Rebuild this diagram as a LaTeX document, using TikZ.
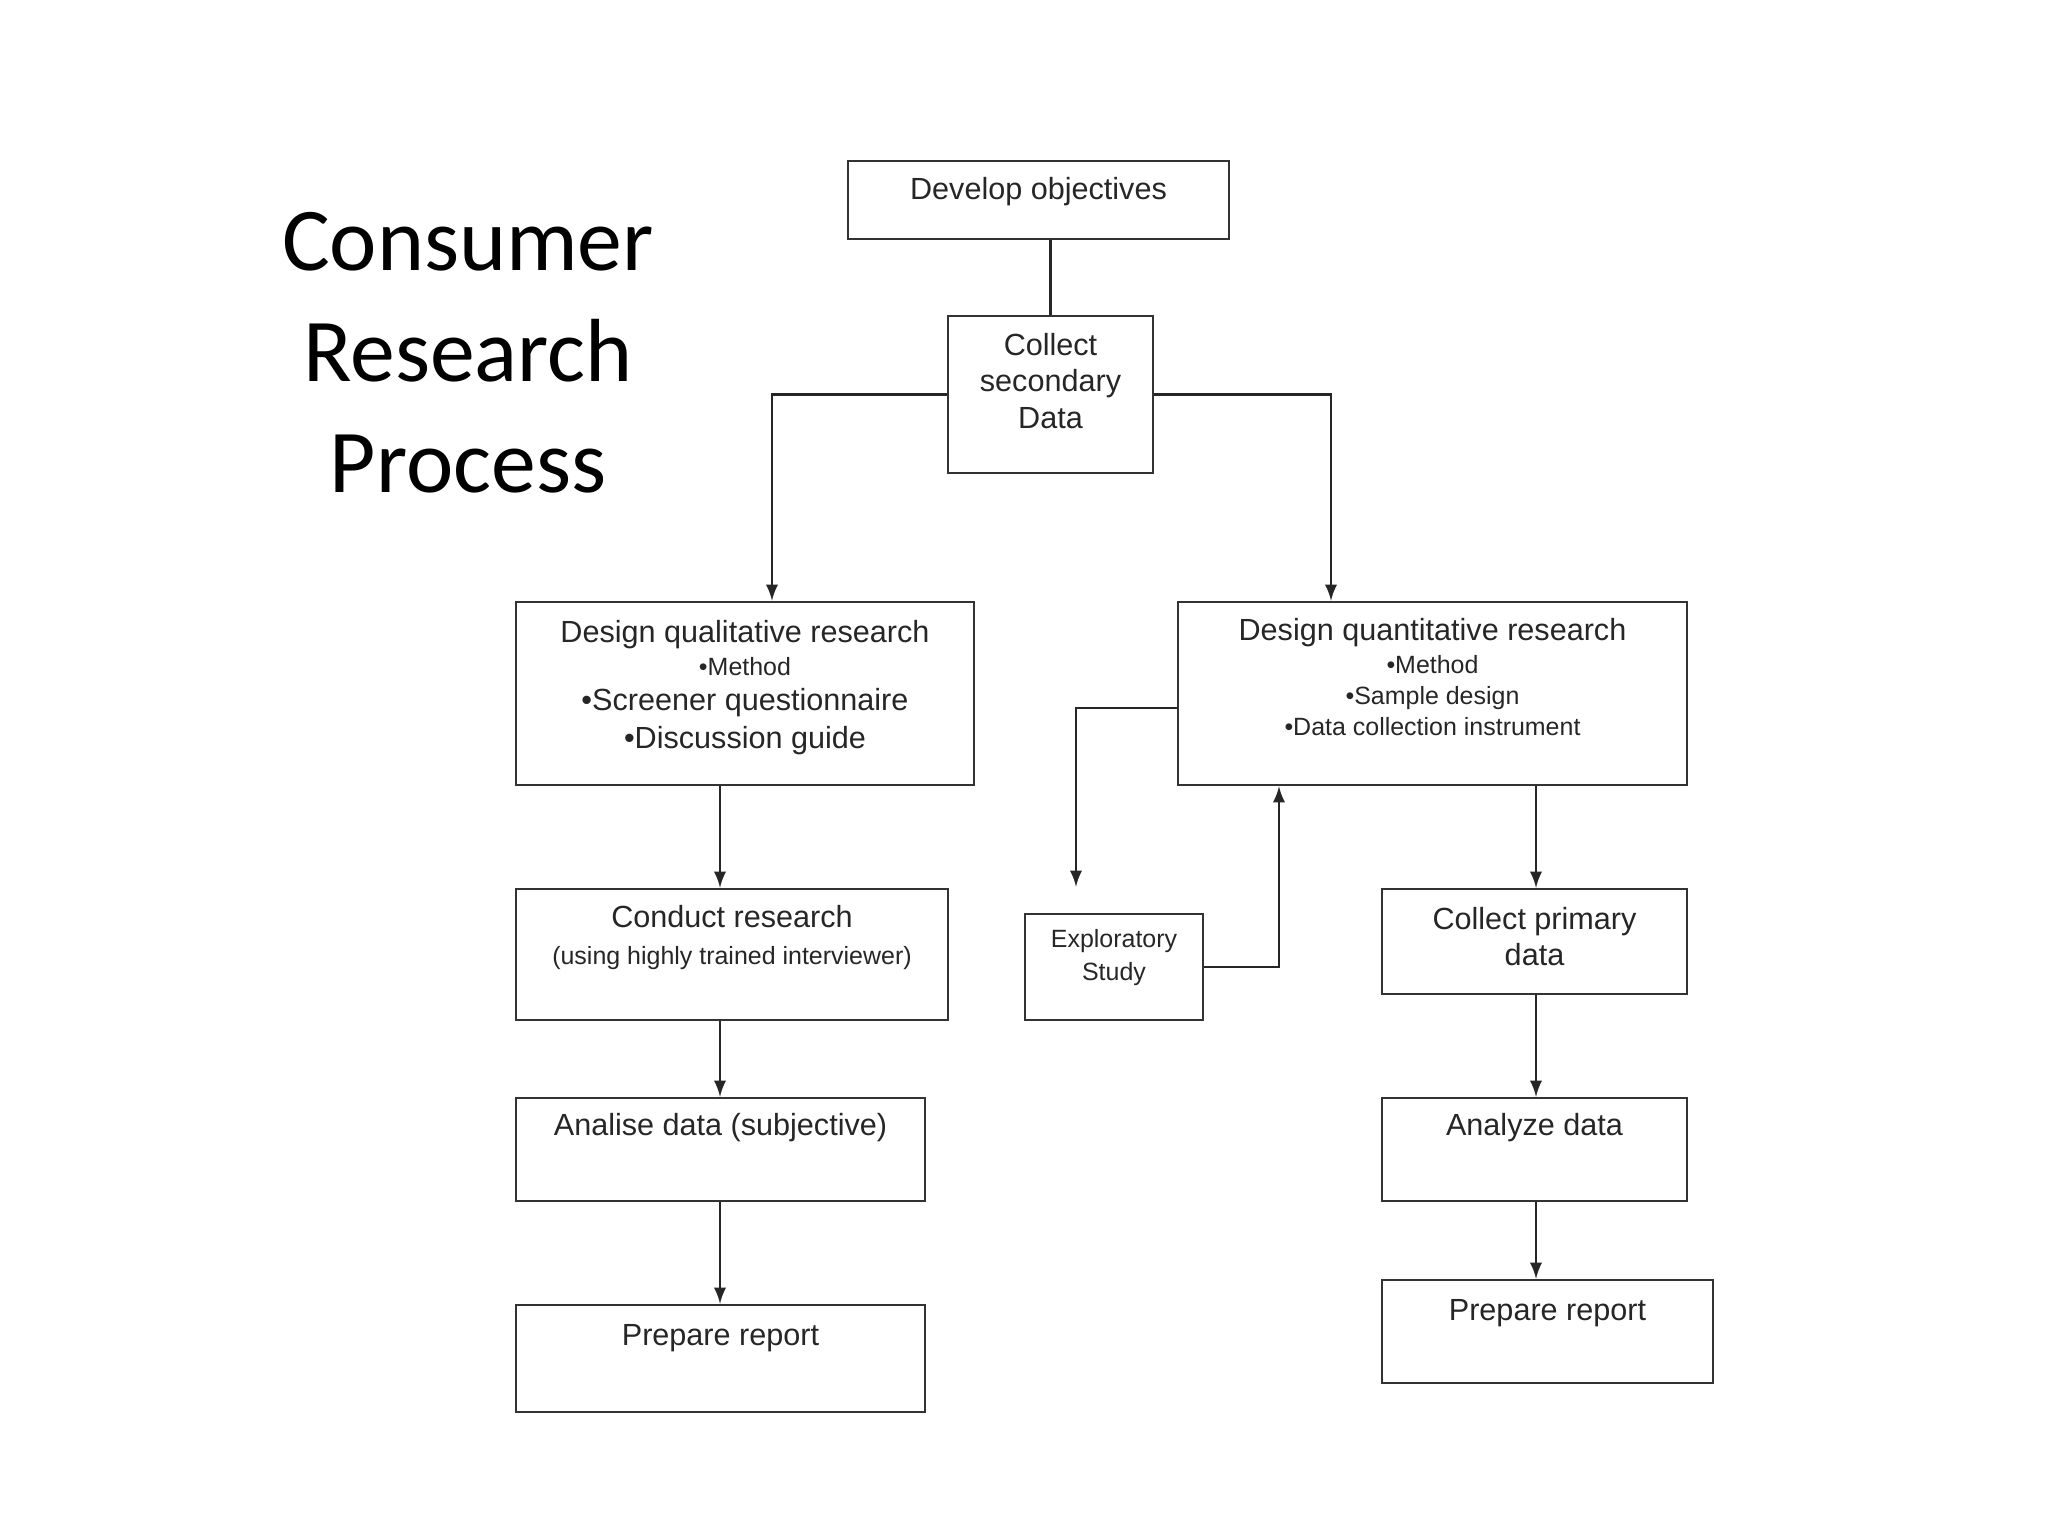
\documentclass[tikz,border=0pt]{standalone}
\usepackage{fontspec}
\setmainfont{Liberation Sans}
\newfontfamily\titlefont{Carlito}
\newcommand{\subline}[1]{{\fontsize{7.1}{9.5}\selectfont\textbullet#1}}
\usetikzlibrary{calc}

\begin{document}
\begin{tikzpicture}[x=0.01cm,y=-0.01cm,
    box/.style={draw=black!80,line width=0.7pt,text=black!85,align=center,
      font=\fontsize{8.7}{10.4}\selectfont},
    oneline/.style={text height=0.22cm,text depth=#1},
    conn/.style={draw=black!85,line width=0.6pt}]
    \useasboundingbox (0,0) rectangle (2048,1536);

    \coordinate (qualx)  at (772,0);
    \coordinate (leftx)  at (720,0);
    \coordinate (quantx) at (1331,0);
    \coordinate (downx)  at (1076,0);
    \coordinate (upx)    at (1279,0);
    \coordinate (rightx) at (1536,0);
    \coordinate (branchy) at (0,708);

    \node[font=\titlefont\fontsize{25.5}{31.6}\selectfont,align=center,text=black]
      at (468,353) (Title) {Consumer\\Research\\Process};

    \node[box,minimum width=3.81cm,minimum height=0.78cm,oneline=0.24cm]
      at (1038.5,200) (DevObj) {Develop objectives};
    \node[box,minimum width=2.05cm,minimum height=1.57cm,text depth=0.28cm]
      at (1050.5,394.5) (CollSec) {Collect\\secondary\\Data};
    \node[box,minimum width=4.58cm,minimum height=1.83cm,text depth=0.19cm]
      at (745,693.5) (QualDes) {Design qualitative research\\[-1pt]\subline{Method}\\[-0.5pt]%
      \textbullet Screener questionnaire\\[0.4pt]\textbullet Discussion guide};
    \node[box,minimum width=5.09cm,minimum height=1.83cm,text depth=0.34cm]
      at (1432.5,693.5) (QuantDes) {Design quantitative research\\[-1pt]\subline{Method}\\[-1.6pt]%
      \subline{Sample design}\\[-1.6pt]\subline{Data collection instrument}};
    \node[box,minimum width=4.32cm,minimum height=1.31cm,text depth=0.39cm]
      at (732,954.5) (CondRes) {Conduct research\\%
      {\fontsize{7.1}{9.5}\selectfont(using highly trained interviewer)}};
    \node[box,minimum width=1.78cm,minimum height=1.06cm,text depth=0.24cm,
      font=\fontsize{7.1}{9.2}\selectfont]
      at (1114,967) (ExpStudy) {Exploratory\\Study};
    \node[box,minimum width=3.05cm,minimum height=1.05cm,text depth=0.10cm]
      at (1534.5,941.5) (CollPrim) {Collect primary\\data};
    \node[box,minimum width=4.09cm,minimum height=1.03cm,oneline=0.50cm]
      at (720.5,1149.5) (AnaSubj) {Analise data (subjective)};
    \node[box,minimum width=3.05cm,minimum height=1.03cm,oneline=0.50cm]
      at (1534.5,1149.5) (AnaData) {Analyze data};
    \node[box,minimum width=4.09cm,minimum height=1.07cm,oneline=0.48cm]
      at (720.5,1358.5) (PrepRepL) {Prepare report};
    \node[box,minimum width=3.31cm,minimum height=1.03cm,oneline=0.44cm]
      at (1547.5,1331.5) (PrepRepR) {Prepare report};

    \draw[conn] (DevObj.south -| CollSec) to (CollSec);
    \draw[conn,-latex] (CollSec.west) -| (QualDes.north -| qualx);
    \draw[conn,-latex] (CollSec.east) -| (QuantDes.north -| quantx);
    \draw[conn,-latex] (QualDes.south -| leftx) to (CondRes.north -| leftx);
    \draw[conn,-latex] (CondRes.south -| leftx) to (AnaSubj.north -| leftx);
    \draw[conn,-latex] (AnaSubj.south -| leftx) to (PrepRepL.north -| leftx);
    \draw[conn,-latex,shorten >=0.26cm] (QuantDes.west |- branchy) -| (ExpStudy.north -| downx);
    \draw[conn,-latex] (ExpStudy.east) -| (QuantDes.south -| upx);
    \draw[conn,-latex] (QuantDes.south -| rightx) to (CollPrim.north -| rightx);
    \draw[conn,-latex] (CollPrim.south -| rightx) to (AnaData.north -| rightx);
    \draw[conn,-latex] (AnaData.south -| rightx) to (PrepRepR.north -| rightx);
\end{tikzpicture}
\end{document}
